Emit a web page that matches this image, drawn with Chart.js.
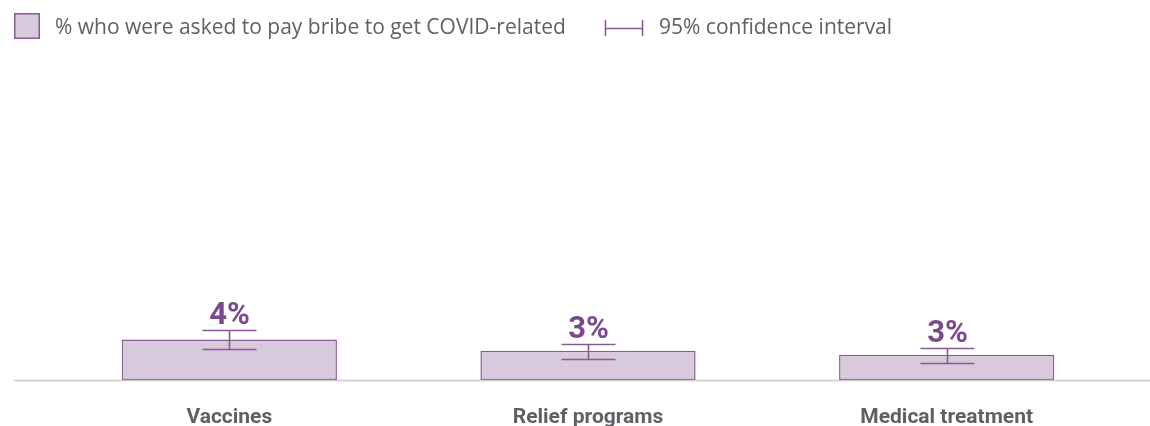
<!DOCTYPE html>
<html>
<head>
<meta charset="utf-8">
<script src="https://cdn.jsdelivr.net/npm/chart.js@4.4.1/dist/chart.umd.min.js"></script>
<style>
  html, body { margin: 0; padding: 0; background: #ffffff; }
  #wrap { width: 1150px; height: 426px; position: relative; }
</style>
</head>
<body>
<div id="wrap"><canvas id="c" width="1150" height="426"></canvas></div>
<script>
const categories = ["Vaccines", "Relief programs", "Medical treatment"];
const values = [4.0, 2.9, 2.5];
const ciLow = [3.1, 2.1, 1.7];
const ciHigh = [5.0, 3.6, 3.2];
const valueLabels = ["4%", "3%", "3%"];
const legendLabels = ["% who were asked to pay bribe to get COVID-related", "95% confidence interval"];

const PURPLE = "#8a5a97";
const FILL = "#d8c9dd";
const LABEL_PURPLE = "#7b4a8e";
const GREY_TEXT = "#5d6067";

const overlay = {
  id: "overlay",
  afterDatasetsDraw(chart) {
    const ctx = chart.ctx;
    const x = chart.scales.x, y = chart.scales.y;
    ctx.save();
    // baseline
    ctx.strokeStyle = "#c9c9c9";
    ctx.lineWidth = 1.5;
    ctx.beginPath();
    const y0 = y.getPixelForValue(0);
    ctx.moveTo(14, y0 + 0.5);
    ctx.lineTo(chart.width, y0 + 0.5);
    ctx.stroke();
    // error bars
    ctx.strokeStyle = PURPLE;
    ctx.lineWidth = 1.6;
    categories.forEach((c, i) => {
      const cx = Math.round(x.getPixelForValue(i)) + 0.5;
      const yl = Math.round(y.getPixelForValue(ciLow[i])) + 0.5;
      const yh = Math.round(y.getPixelForValue(ciHigh[i])) + 0.5;
      ctx.beginPath();
      ctx.moveTo(cx, yl); ctx.lineTo(cx, yh);
      ctx.moveTo(cx - 27, yl); ctx.lineTo(cx + 27, yl);
      ctx.moveTo(cx - 27, yh); ctx.lineTo(cx + 27, yh);
      ctx.stroke();
      // value label
      ctx.fillStyle = LABEL_PURPLE;
      ctx.font = "bold 31px Roboto";
      ctx.textAlign = "center";
      ctx.textBaseline = "alphabetic";
      ctx.fillText(valueLabels[i], cx, yh - 7);
    });
    // legend
    ctx.textAlign = "left";
    ctx.textBaseline = "middle";
    ctx.fillStyle = FILL;
    ctx.fillRect(14, 13, 26, 26);
    ctx.strokeStyle = PURPLE;
    ctx.lineWidth = 1.5;
    ctx.strokeRect(14.75, 13.75, 24.5, 24.5);
    ctx.fillStyle = GREY_TEXT;
    ctx.font = "21px 'Open Sans'";
    ctx.fillText(legendLabels[0], 55, 28);
    // CI icon
    ctx.strokeStyle = PURPLE;
    ctx.lineWidth = 1.6;
    ctx.beginPath();
    ctx.moveTo(605.5, 20); ctx.lineTo(605.5, 36);
    ctx.moveTo(642.5, 20); ctx.lineTo(642.5, 36);
    ctx.moveTo(605.5, 28.5); ctx.lineTo(642.5, 28.5);
    ctx.stroke();
    ctx.fillStyle = GREY_TEXT;
    ctx.fillText(legendLabels[1], 659, 28);
    ctx.restore();
  }
};

new Chart(document.getElementById("c"), {
  type: "bar",
  data: {
    labels: categories,
    datasets: [{
      label: legendLabels[0],
      data: values,
      backgroundColor: FILL,
      borderColor: PURPLE,
      borderWidth: 1.5,
      borderSkipped: false,
      barPercentage: 0.6,
      categoryPercentage: 1.0
    }]
  },
  options: {
    responsive: false,
    animation: false,
    devicePixelRatio: 1,
    layout: { padding: { left: 50, right: 24, top: 77, bottom: 0 } },
    plugins: { legend: { display: false }, tooltip: { enabled: false } },
    scales: {
      x: {
        grid: { display: false, drawTicks: false },
        border: { display: false },
        ticks: {
          color: GREY_TEXT,
          font: { family: "Roboto", weight: "bold", size: 21 },
          padding: 25
        },
        afterFit(scale) { scale.height = 46; }
      },
      y: { display: false, min: 0, max: 30 }
    }
  },
  plugins: [overlay]
});
</script>
</body>
</html>
